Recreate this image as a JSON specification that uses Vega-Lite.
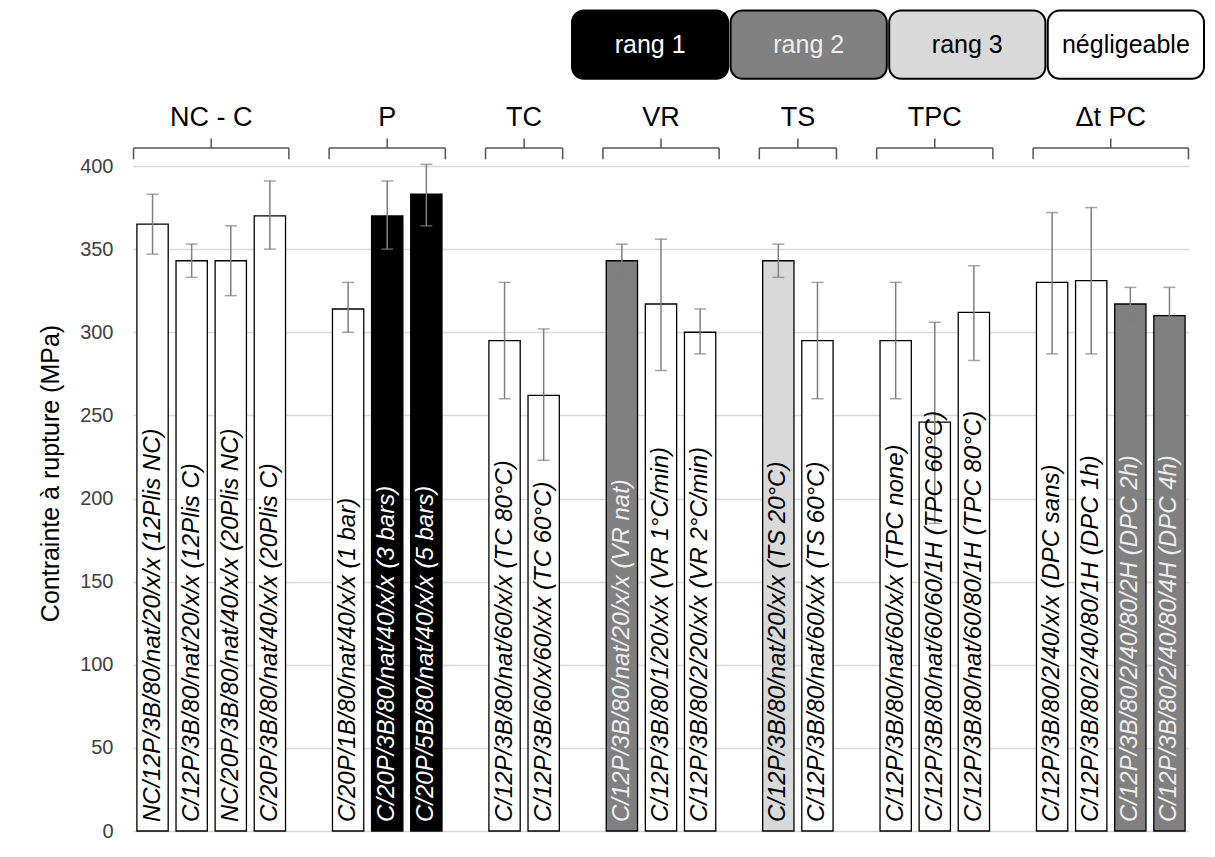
{
  "$schema": "https://vega.github.io/schema/vega-lite/v6.json",
  "width": 1056,
  "height": 665,
  "autosize": "none",
  "padding": {"left": 133, "top": 166, "right": 26, "bottom": 26},
  "background": "white",
  "config": {"view": {"stroke": null}, "font": "Liberation Sans", "axis": {"labelFont": "Liberation Sans", "titleFont": "Liberation Sans"}},
  "datasets": {
    "bars": [
      {"id": "b1", "label": "NC/12P/3B/80/nat/20/x/x (12Plis NC)", "rank": "négligeable", "value": 365, "lo": 347, "hi": 383},
      {"id": "b2", "label": "C/12P/3B/80/nat/20/x/x (12Plis C)", "rank": "négligeable", "value": 343, "lo": 333, "hi": 353},
      {"id": "b3", "label": "NC/20P/3B/80/nat/40/x/x (20Plis NC)", "rank": "négligeable", "value": 343, "lo": 322, "hi": 364},
      {"id": "b4", "label": "C/20P/3B/80/nat/40/x/x (20Plis C)", "rank": "négligeable", "value": 370, "lo": 350, "hi": 391},
      {"id": "b5", "label": "C/20P/1B/80/nat/40/x/x (1 bar)", "rank": "négligeable", "value": 314, "lo": 300, "hi": 330},
      {"id": "b6", "label": "C/20P/3B/80/nat/40/x/x (3 bars)", "rank": "rang 1", "value": 370, "lo": 350, "hi": 391},
      {"id": "b7", "label": "C/20P/5B/80/nat/40/x/x (5 bars)", "rank": "rang 1", "value": 383, "lo": 364, "hi": 401},
      {"id": "b8", "label": "C/12P/3B/80/nat/60/x/x (TC 80°C)", "rank": "négligeable", "value": 295, "lo": 260, "hi": 330},
      {"id": "b9", "label": "C/12P/3B/60/x/60/x/x (TC 60°C)", "rank": "négligeable", "value": 262, "lo": 223, "hi": 302},
      {"id": "b10", "label": "C/12P/3B/80/nat/20/x/x (VR nat)", "rank": "rang 2", "value": 343, "lo": 333, "hi": 353},
      {"id": "b11", "label": "C/12P/3B/80/1/20/x/x (VR 1°C/min)", "rank": "négligeable", "value": 317, "lo": 277, "hi": 356},
      {"id": "b12", "label": "C/12P/3B/80/2/20/x/x (VR 2°C/min)", "rank": "négligeable", "value": 300, "lo": 287, "hi": 314},
      {"id": "b13", "label": "C/12P/3B/80/nat/20/x/x (TS 20°C)", "rank": "rang 3", "value": 343, "lo": 333, "hi": 353},
      {"id": "b14", "label": "C/12P/3B/80/nat/60/x/x (TS 60°C)", "rank": "négligeable", "value": 295, "lo": 260, "hi": 330},
      {"id": "b15", "label": "C/12P/3B/80/nat/60/x/x (TPC none)", "rank": "négligeable", "value": 295, "lo": 260, "hi": 330},
      {"id": "b16", "label": "C/12P/3B/80/nat/60/60/1H (TPC 60°C)", "rank": "négligeable", "value": 246, "lo": 185, "hi": 306},
      {"id": "b17", "label": "C/12P/3B/80/nat/60/80/1H (TPC 80°C)", "rank": "négligeable", "value": 312, "lo": 283, "hi": 340},
      {"id": "b18", "label": "C/12P/3B/80/2/40/x/x (DPC sans)", "rank": "négligeable", "value": 330, "lo": 287, "hi": 372},
      {"id": "b19", "label": "C/12P/3B/80/2/40/80/1H (DPC 1h)", "rank": "négligeable", "value": 331, "lo": 287, "hi": 375},
      {"id": "b20", "label": "C/12P/3B/80/2/40/80/2H (DPC 2h)", "rank": "rang 2", "value": 317, "lo": 307, "hi": 327},
      {"id": "b21", "label": "C/12P/3B/80/2/40/80/4H (DPC 4h)", "rank": "rang 2", "value": 310, "lo": 294, "hi": 327}
    ],
    "groups": [
      {"label": "NC - C", "first": 0, "last": 3, "mid": 1.5},
      {"label": "P", "first": 5, "last": 7, "mid": 6},
      {"label": "TC", "first": 9, "last": 10, "mid": 9.5},
      {"label": "VR", "first": 12, "last": 14, "mid": 13},
      {"label": "TS", "first": 16, "last": 17, "mid": 16.5},
      {"label": "TPC", "first": 19, "last": 21, "mid": 20},
      {"label": "Δt PC", "first": 23, "last": 26, "mid": 24.5}
    ],
    "legend": [
      {"label": "rang 1"},
      {"label": "rang 2"},
      {"label": "rang 3"},
      {"label": "négligeable"}
    ]
  },
  "layer": [
    {
      "data": {"name": "bars"},
      "encoding": {
        "x": {
          "field": "id", "type": "nominal",
          "scale": {
            "domain": ["b1","b2","b3","b4","g1","b5","b6","b7","g2","b8","b9","g3","b10","b11","b12","g4","b13","b14","g5","b15","b16","b17","g6","b18","b19","b20","b21"],
            "paddingInner": 0.2, "paddingOuter": 0.1
          },
          "axis": null
        }
      },
      "layer": [
        {
          "mark": {"type": "bar", "stroke": "#000000", "strokeWidth": 1.3},
          "encoding": {
            "y": {
              "field": "value", "type": "quantitative",
              "scale": {"domain": [0, 400], "nice": false},
              "axis": {
                "values": [0, 50, 100, 150, 200, 250, 300, 350, 400],
                "grid": true, "gridColor": "#d9d9d9", "gridWidth": 1.3,
                "domain": false, "ticks": false,
                "labelFontSize": 20, "labelColor": "#404040", "labelPadding": 20,
                "title": "Contrainte à rupture (MPa)", "titleFontSize": 25,
                "titleFontWeight": "normal", "titleColor": "#000000", "titlePadding": 16,
                "titleY": 307
              }
            },
            "fill": {
              "field": "rank", "type": "nominal",
              "scale": {"domain": ["rang 1", "rang 2", "rang 3", "négligeable"], "range": ["#000000", "#808080", "#d9d9d9", "#ffffff"]},
              "legend": null
            }
          }
        },
        {
          "mark": {"type": "rule", "color": "#7f7f7f", "strokeWidth": 1.5},
          "encoding": {
            "y": {"field": "lo", "type": "quantitative", "scale": {"domain": [0, 400], "nice": false}},
            "y2": {"field": "hi"}
          }
        },
        {
          "mark": {"type": "tick", "color": "#7f7f7f", "size": 12, "thickness": 1.5, "orient": "horizontal"},
          "encoding": {
            "y": {"field": "lo", "type": "quantitative", "scale": {"domain": [0, 400], "nice": false}}
          }
        },
        {
          "mark": {"type": "tick", "color": "#7f7f7f", "size": 12, "thickness": 1.5, "orient": "horizontal"},
          "encoding": {
            "y": {"field": "hi", "type": "quantitative", "scale": {"domain": [0, 400], "nice": false}}
          }
        },
        {
          "mark": {"type": "text", "angle": 270, "align": "left", "baseline": "middle", "dx": 9, "fontStyle": "italic", "fontSize": 24, "font": "Liberation Sans"},
          "encoding": {
            "y": {"datum": 0, "type": "quantitative", "scale": {"domain": [0, 400], "nice": false}},
            "text": {"field": "label"},
            "color": {
              "field": "rank", "type": "nominal",
              "scale": {"domain": ["rang 1", "rang 2", "rang 3", "négligeable"], "range": ["#ffffff", "#eeeeee", "#000000", "#000000"]},
              "legend": null
            }
          }
        }
      ]
    },
    {
      "data": {"name": "groups"},
      "layer": [
        {
          "mark": {"type": "rule", "color": "#555555", "strokeWidth": 1.5, "xOffset": -19, "x2Offset": 19},
          "encoding": {
            "x": {"field": "first", "type": "quantitative", "scale": {"domain": [-0.5, 26.5], "nice": false, "zero": false}, "axis": null},
            "x2": {"field": "last"},
            "y": {"datum": 410.8, "type": "quantitative", "scale": {"domain": [0, 400], "nice": false}}
          }
        },
        {
          "mark": {"type": "rule", "color": "#555555", "strokeWidth": 1.5, "xOffset": -19},
          "encoding": {
            "x": {"field": "first", "type": "quantitative", "scale": {"domain": [-0.5, 26.5], "nice": false, "zero": false}, "axis": null},
            "y": {"datum": 410.8, "type": "quantitative", "scale": {"domain": [0, 400], "nice": false}},
            "y2": {"datum": 404}
          }
        },
        {
          "mark": {"type": "rule", "color": "#555555", "strokeWidth": 1.5, "xOffset": 19},
          "encoding": {
            "x": {"field": "last", "type": "quantitative", "scale": {"domain": [-0.5, 26.5], "nice": false, "zero": false}, "axis": null},
            "y": {"datum": 410.8, "type": "quantitative", "scale": {"domain": [0, 400], "nice": false}},
            "y2": {"datum": 404}
          }
        },
        {
          "mark": {"type": "rule", "color": "#555555", "strokeWidth": 1.5},
          "encoding": {
            "x": {"field": "mid", "type": "quantitative", "scale": {"domain": [-0.5, 26.5], "nice": false, "zero": false}, "axis": null},
            "y": {"datum": 410.8, "type": "quantitative", "scale": {"domain": [0, 400], "nice": false}},
            "y2": {"datum": 416.5}
          }
        },
        {
          "mark": {"type": "text", "fontSize": 27, "font": "Liberation Sans", "color": "#000000", "baseline": "middle", "align": "center"},
          "encoding": {
            "x": {"field": "mid", "type": "quantitative", "scale": {"domain": [-0.5, 26.5], "nice": false, "zero": false}, "axis": null},
            "y": {"datum": 429, "type": "quantitative", "scale": {"domain": [0, 400], "nice": false}},
            "text": {"field": "label"}
          }
        }
      ]
    },
    {
      "data": {"name": "legend"},
      "encoding": {
        "x": {
          "field": "label", "type": "nominal",
          "scale": {"domain": ["rang 1", "rang 2", "rang 3", "négligeable"], "range": [439, 1071], "paddingInner": 0.015, "paddingOuter": 0},
          "axis": null
        }
      },
      "layer": [
        {
          "mark": {"type": "rect", "cornerRadius": 12, "stroke": "#000000", "strokeWidth": 2},
          "encoding": {
            "y": {"datum": 493.5, "type": "quantitative", "scale": {"domain": [0, 400], "nice": false}},
            "y2": {"datum": 452.5},
            "fill": {
              "field": "label", "type": "nominal",
              "scale": {"domain": ["rang 1", "rang 2", "rang 3", "négligeable"], "range": ["#000000", "#808080", "#d9d9d9", "#ffffff"]},
              "legend": null
            }
          }
        },
        {
          "mark": {"type": "text", "font": "Liberation Sans", "baseline": "middle", "align": "center", "fontSize": 25},
          "encoding": {
            "y": {"datum": 473, "type": "quantitative", "scale": {"domain": [0, 400], "nice": false}},
            "text": {"field": "label"},
            "color": {
              "field": "label", "type": "nominal",
              "scale": {"domain": ["rang 1", "rang 2", "rang 3", "négligeable"], "range": ["#ffffff", "#eeeeee", "#000000", "#000000"]},
              "legend": null
            }
          }
        }
      ]
    }
  ],
  "resolve": {"scale": {"x": "independent"}}
}
